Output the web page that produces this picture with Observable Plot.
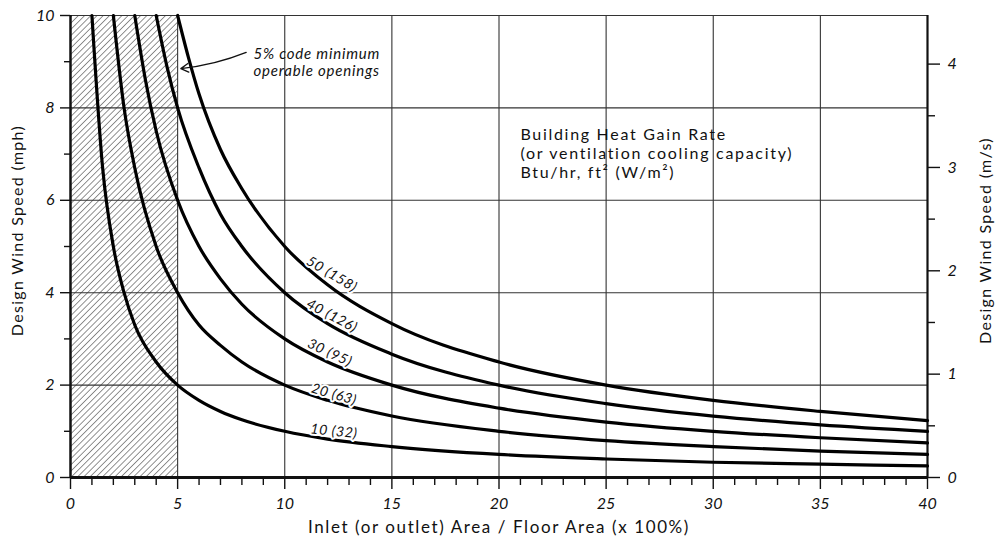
<!DOCTYPE html>
<html><head><meta charset="utf-8">
<script src="https://cdn.jsdelivr.net/npm/d3@7"></script>
<script src="https://cdn.jsdelivr.net/npm/@observablehq/plot@0.6"></script>
<style>
body{margin:0;background:#fff}
#chart svg{display:block}
.lbl-axis text{letter-spacing:1.6px}
.lbl-side text{letter-spacing:1.3px}
.lbl-note text{letter-spacing:0.8px}
.lbl-big text{letter-spacing:1.7px}
.lbl-curve text{letter-spacing:0.6px}
</style>
</head><body><div id="chart"></div>
<script>
// Curves: heat gain rate series
const seriesLabels = ["10 (32)", "20 (63)", "30 (95)", "40 (126)", "50 (158)"];
const x10 = [1, 1.5, 2, 2.5, 3, 4, 5, 6, 7, 8, 10, 12, 15, 20, 25, 30, 35, 40];
const y10 = [10, 6.7, 5, 4, 3.3, 2.5, 2, 1.67, 1.43, 1.25, 1.0, 0.83, 0.67, 0.5, 0.4, 0.33, 0.29, 0.25];
const x20 = [2, 2.5, 3, 4, 5, 6, 7, 8, 10, 12, 15, 20, 25, 30, 35, 40];
const y20 = [10, 8, 6.7, 5, 4, 3.3, 2.86, 2.5, 2, 1.67, 1.33, 1.0, 0.8, 0.67, 0.57, 0.5];
const x30 = [3, 3.5, 4, 5, 6, 7, 8, 10, 12, 15, 20, 25, 30, 35, 40];
const y30 = [10, 8.6, 7.5, 6, 5, 4.3, 3.75, 3, 2.5, 2, 1.5, 1.2, 1.0, 0.86, 0.75];
const x40 = [4, 4.5, 5, 6, 7, 8, 10, 12, 15, 20, 25, 30, 35, 40];
const y40 = [10, 8.9, 8, 6.7, 5.7, 5, 4, 3.33, 2.67, 2, 1.6, 1.33, 1.14, 1.0];
const x50 = [5, 5.5, 6, 7, 8, 10, 12, 15, 20, 25, 30, 35, 40];
const y50 = [10, 9.1, 8.3, 7.1, 6.25, 5, 4.17, 3.33, 2.5, 2, 1.67, 1.43, 1.23];

// Curve label placement (data coords) and angle
const labelX = [12.3, 12.3, 12.1, 12.2, 12.2];
const labelY = [1.0, 1.8, 2.7, 3.5, 4.4];
const labelAngle = [6, 16, 25, 28, 31];

// Axes ticks
const xMajor = [0, 5, 10, 15, 20, 25, 30, 35, 40];
const xMinor = [1, 2, 3, 4, 6, 7, 8, 9, 11, 12, 13, 14, 16, 17, 18, 19, 21, 22, 23, 24, 26, 27, 28, 29, 31, 32, 33, 34, 36, 37, 38, 39];
const yMajor = [0, 2, 4, 6, 8, 10];
const yMinor = [1, 3, 5, 7, 9];
const msMajor = [0, 1, 2, 3, 4];
const msMinor = [0.5, 1.5, 2.5, 3.5];
const MPH_PER_MS = 2.237;

// Shaded region (below 5% code minimum)
const shade = [{x1: 0, x2: 5, y1: 0, y2: 10}];

const curves = [];
[[x10, y10], [x20, y20], [x30, y30], [x40, y40], [x50, y50]].forEach(([xs, ys], i) => {
  xs.forEach((x, j) => curves.push({series: seriesLabels[i], x, y: ys[j]}));
});
const curveLabels = seriesLabels.map((s, i) => ({s, x: labelX[i], y: labelY[i], a: labelAngle[i]}));

const font = "Lato, 'Open Sans', sans-serif";

const chart = Plot.plot({
  width: 1001, height: 542,
  marginLeft: 70, marginRight: 74, marginTop: 15, marginBottom: 65,
  x: {domain: [0, 40]},
  y: {domain: [0, 10]},
  style: {fontFamily: font, fontSize: "15px", color: "#111", background: "#fff"},
  marks: [
    Plot.rect(shade, {x1: "x1", x2: "x2", y1: "y1", y2: "y2", fill: "url(#hatch)"}),
    Plot.ruleX(xMajor.slice(1, -1), {y1: 0, y2: 10, stroke: "#333", strokeWidth: 1.1}),
    Plot.ruleY(yMajor.slice(1), {x1: 0, x2: 40, stroke: "#333", strokeWidth: 1.1}),
    Plot.ruleX([0], {y1: 0, y2: 10, stroke: "#111", strokeWidth: 2.5}),
    Plot.ruleX([40], {y1: 0, y2: 10, stroke: "#111", strokeWidth: 2.2}),
    Plot.ruleY([0], {x1: 0, x2: 40, stroke: "#111", strokeWidth: 3}),
    Plot.line(curves, {x: "x", y: "y", z: "series", curve: "monotone-x", stroke: "#000", strokeWidth: 3.2}),
    Plot.text(curveLabels, {x: "x", y: "y", text: "s", rotate: "a", fontSize: 14, fontStyle: "italic", fill: "#111", stroke: "#fff", strokeWidth: 4, paintOrder: "stroke", className: "lbl-curve"}),
    Plot.axisX({ticks: xMajor, tickSize: 12, tickPadding: 8, fontSize: 16, fontStyle: "italic", label: null, strokeWidth: 1.4}),
    Plot.axisX({ticks: xMinor, tickSize: 8, tickFormat: () => "", label: null, strokeWidth: 1.4}),
    Plot.axisY({ticks: yMajor, tickSize: 10, tickPadding: 6, fontSize: 16, fontStyle: "italic", label: null, strokeWidth: 1.4}),
    Plot.axisY({ticks: yMinor, tickSize: 6, tickFormat: () => "", label: null, strokeWidth: 1.4}),
    Plot.axisY({anchor: "right", ticks: msMajor.map(v => v * MPH_PER_MS), tickFormat: d => String(Math.round(d / MPH_PER_MS)), tickSize: 12, tickPadding: 8, fontSize: 16, fontStyle: "italic", label: null, strokeWidth: 1.4}),
    Plot.axisY({anchor: "right", ticks: msMinor.map(v => v * MPH_PER_MS), tickSize: 7, tickFormat: () => "", label: null, strokeWidth: 1.4}),
    Plot.text(["Design Wind Speed (mph)"], {frameAnchor: "left", textAnchor: "middle", lineAnchor: "middle", dx: -53, dy: -16, rotate: -90, fontSize: 16, className: "lbl-side"}),
    Plot.text(["Design Wind Speed (m/s)"], {frameAnchor: "right", textAnchor: "middle", lineAnchor: "middle", dx: 58, dy: -6, rotate: -90, fontSize: 16, className: "lbl-side"}),
    Plot.text(["Inlet (or outlet) Area / Floor Area (x 100%)"], {frameAnchor: "bottom", lineAnchor: "middle", dy: 50, fontSize: 17, className: "lbl-axis"}),
    Plot.text(["5% code minimum\noperable openings"], {x: 8.54, y: 8.99, textAnchor: "start", lineAnchor: "middle", lineHeight: 1.13, fontSize: 15, fontStyle: "italic", className: "lbl-note"}),
    Plot.arrow([{x1: 8.2, y1: 9.2, x2: 5.15, y2: 8.85}], {x1: "x1", y1: "y1", x2: "x2", y2: "y2", bend: 8, headLength: 10, strokeWidth: 1.3, stroke: "#111"}),
    Plot.text(["Building Heat Gain Rate\n(or ventilation cooling capacity)\nBtu/hr, ft² (W/m²)"], {x: 21.0, y: 7.03, textAnchor: "start", lineAnchor: "middle", lineHeight: 1.2, fontSize: 16, className: "lbl-big"})
  ]
});

// hatch pattern definition
const ns = "http://www.w3.org/2000/svg";
const defs = document.createElementNS(ns, "defs");
defs.innerHTML = '<pattern id="hatch" patternUnits="userSpaceOnUse" width="4.4" height="4.4" patternTransform="rotate(45)"><line x1="0" y1="0" x2="0" y2="4.4" stroke="#222" stroke-width="1"/></pattern>';
chart.insertBefore(defs, chart.firstChild);
document.getElementById("chart").appendChild(chart);
</script>
</body></html>
